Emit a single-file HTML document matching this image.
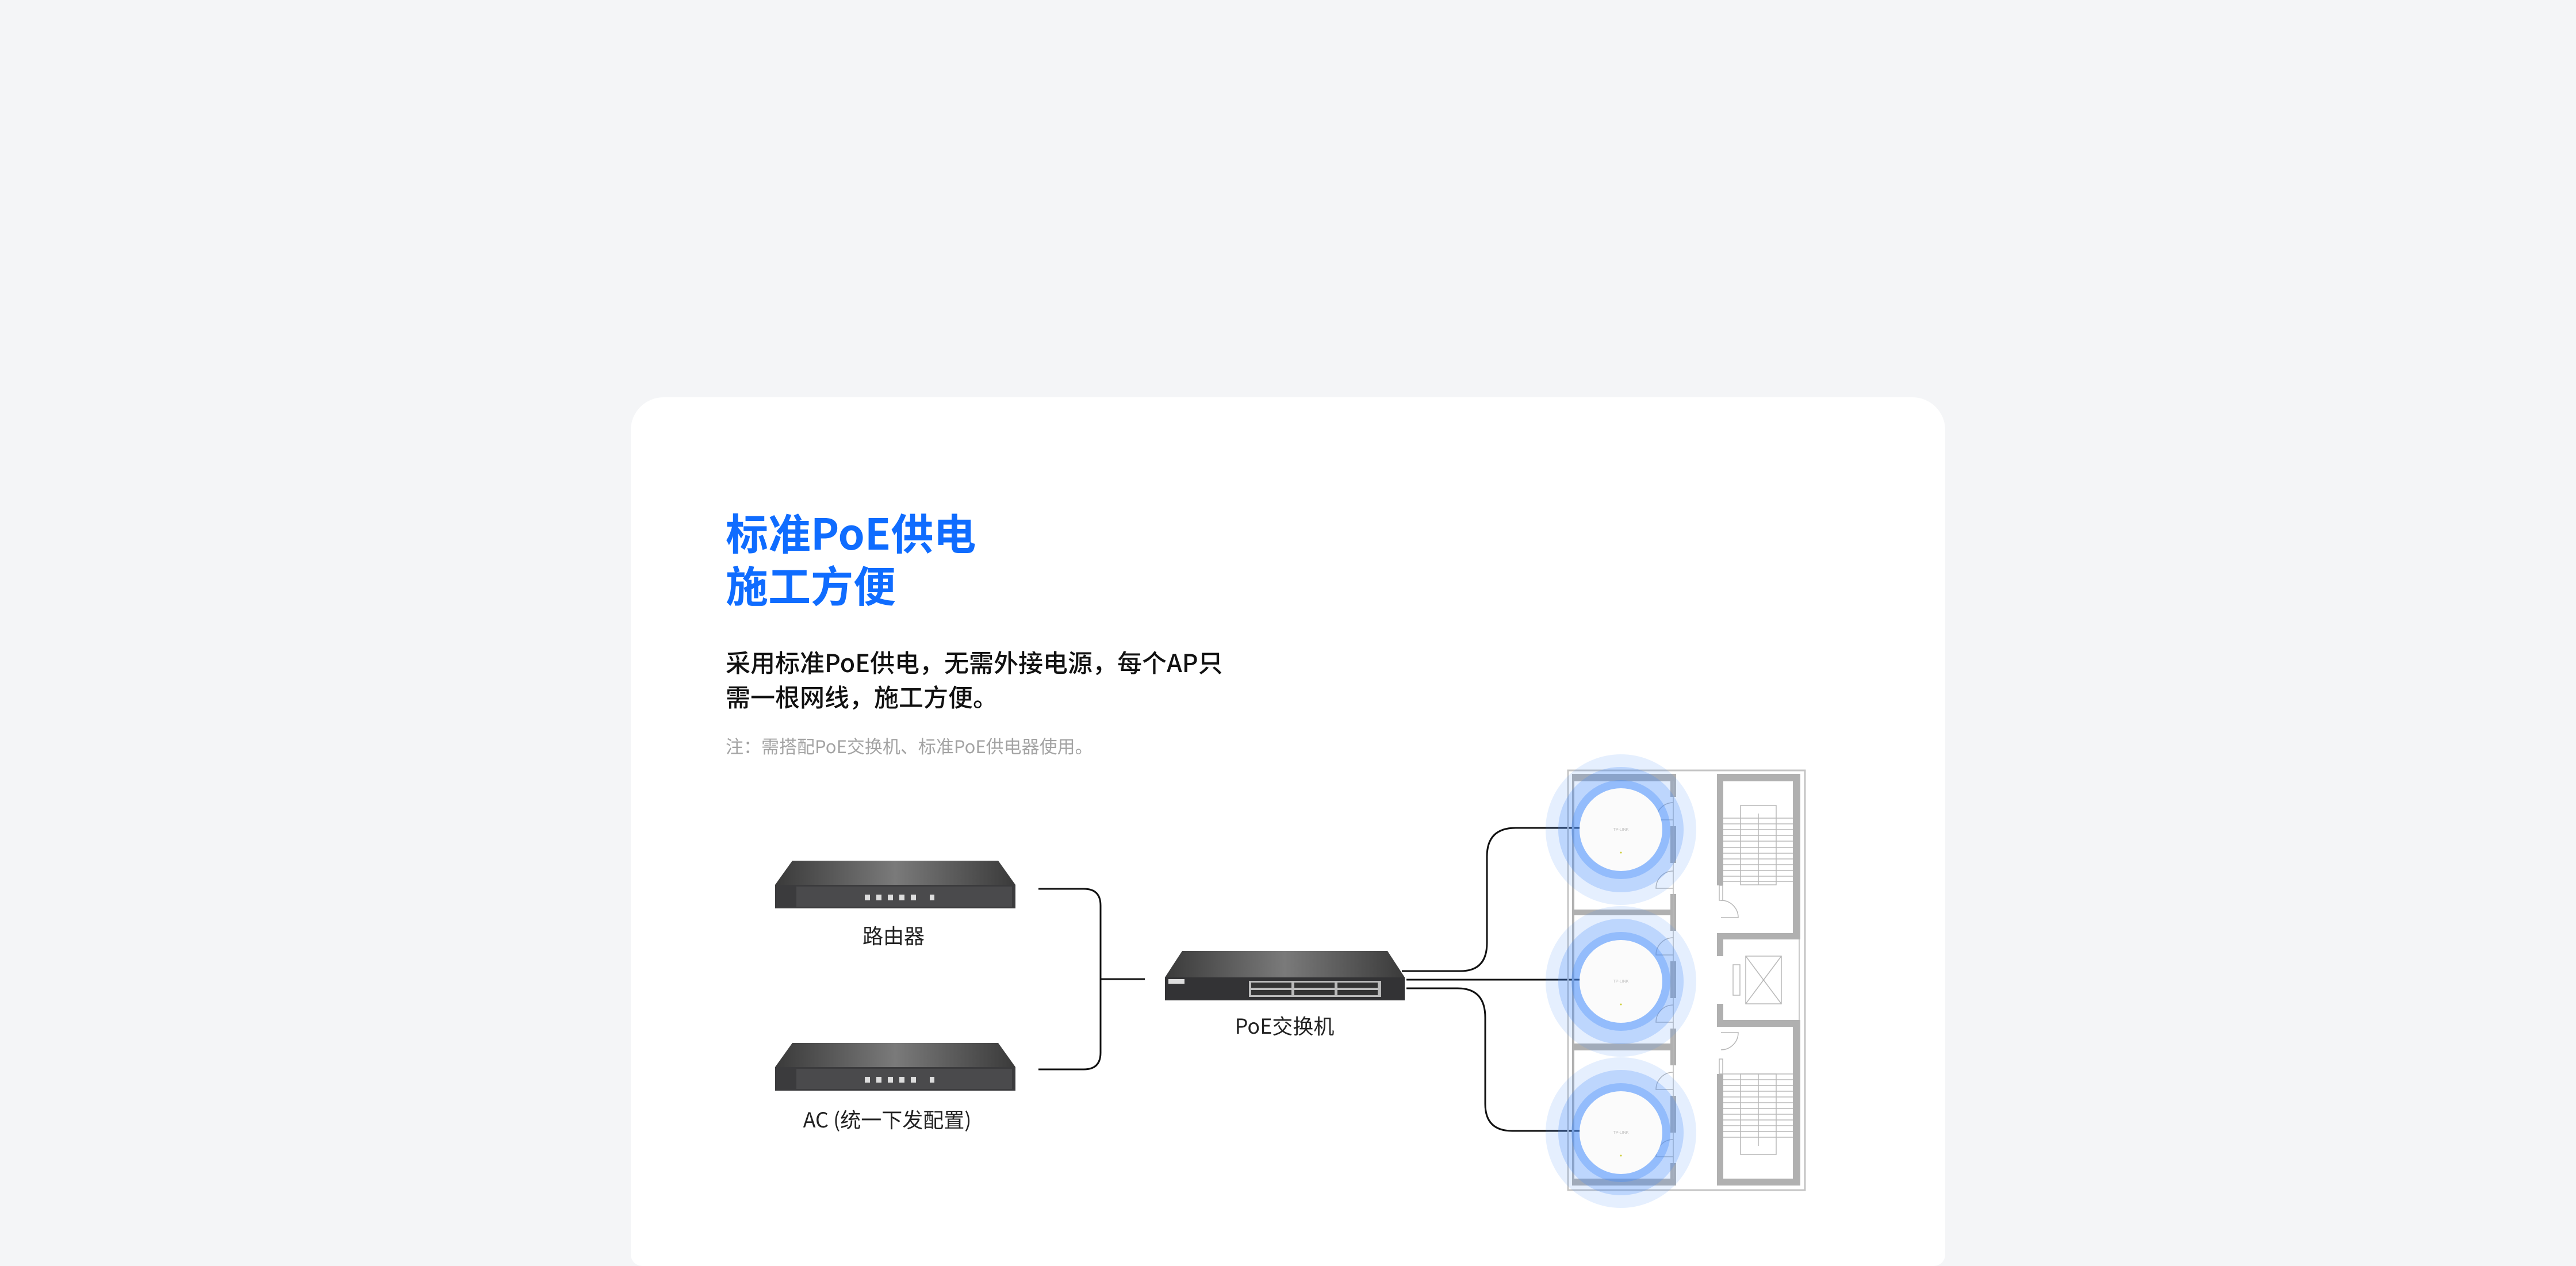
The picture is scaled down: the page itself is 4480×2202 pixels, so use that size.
<!DOCTYPE html>
<html><head><meta charset="utf-8"><style>
html,body{margin:0;padding:0;width:4480px;height:2202px;background:#f4f5f7;overflow:hidden}
#wrap{position:absolute;left:0;top:0;width:4480px;height:2202px;overflow:hidden}
.card{position:absolute;left:1097px;top:691px;width:2286px;height:1511px;background:#fff;border-radius:57px 57px 20px 20px}
.t{position:absolute;font-family:"Noto Sans CJK SC","Liberation Sans",sans-serif;white-space:nowrap}
.title{left:1262px;color:#0f6cff;font-weight:700;font-size:74px;line-height:92px}
.body{left:1262px;color:#111;font-weight:500;font-size:43px;line-height:60px}
.note{left:1262px;color:#a3a3a3;font-size:31px;line-height:40px}
.lbl{color:#222;font-size:36px;line-height:44px;transform:translateX(-50%)}
svg{position:absolute;left:0;top:0}
</style></head><body><div id="wrap">
<div class="card"></div>
<div class="t title" style="top:879px">标准PoE供电</div>
<div class="t title" style="top:970px">施工方便</div>
<div class="t body" style="top:1121px">采用标准PoE供电，无需外接电源，每个AP只</div>
<div class="t body" style="top:1181px">需一根网线，施工方便。</div>
<div class="t note" style="top:1277px">注：需搭配PoE交换机、标准PoE供电器使用。</div>
<div class="t lbl" style="left:1554px;top:1604px">路由器</div>
<div class="t lbl" style="left:1543px;top:1924px">AC (统一下发配置)</div>
<div class="t lbl" style="left:2234px;top:1761px">PoE交换机</div>
<svg width="4480" height="2202" viewBox="0 0 4480 2202">
<defs>
<linearGradient id="top" x1="0" y1="0" x2="1" y2="0">
<stop offset="0" stop-color="#3a3a3a"/><stop offset="0.5" stop-color="#7a7a7a"/><stop offset="1" stop-color="#3a3a3a"/></linearGradient>
</defs>
<g fill="none" stroke="#111" stroke-width="3">
<path d="M1806 1546 H1885 Q1914 1546 1914 1575 V1831 Q1914 1860 1885 1860 H1806"/>
<path d="M1914 1703 H1991"/>
<path d="M2438 1689 H2540 Q2586 1689 2586 1640 V1490 Q2586 1440 2636 1440 H2750"/>
<path d="M2446 1704 H2750"/>
<path d="M2446 1719 H2535 Q2583 1719 2583 1770 V1920 Q2583 1967 2630 1967 H2750"/>
</g>
<g>
<polygon points="1378,1497 1736,1497 1766,1539 1348,1539" fill="url(#top)"/>
<rect x="1348" y="1539" width="418" height="41" fill="#3b3b3d"/>
<rect x="1385" y="1542" width="375" height="35" fill="#4a4a4c"/>
<g fill="#ddd"><rect x="1504" y="1556" width="9" height="10"/><rect x="1524" y="1556" width="9" height="10"/><rect x="1544" y="1556" width="9" height="10"/><rect x="1564" y="1556" width="9" height="10"/><rect x="1584" y="1556" width="9" height="10"/><rect x="1617" y="1556" width="8" height="10"/></g>
</g>
<g>
<polygon points="1378,1814 1736,1814 1766,1856 1348,1856" fill="url(#top)"/>
<rect x="1348" y="1856" width="418" height="41" fill="#3b3b3d"/>
<rect x="1385" y="1859" width="375" height="35" fill="#4a4a4c"/>
<g fill="#ddd"><rect x="1504" y="1873" width="9" height="10"/><rect x="1524" y="1873" width="9" height="10"/><rect x="1544" y="1873" width="9" height="10"/><rect x="1564" y="1873" width="9" height="10"/><rect x="1584" y="1873" width="9" height="10"/><rect x="1617" y="1873" width="8" height="10"/></g>
</g>
<g>
<polygon points="2056,1654 2413,1654 2443,1700 2026,1700" fill="url(#top)"/>
<rect x="2026" y="1700" width="417" height="40" fill="#333335"/>
<rect x="2172" y="1706" width="230" height="28" fill="#bbb"/>
<g fill="#333"><rect x="2176" y="1709" width="70" height="9"/><rect x="2251" y="1709" width="70" height="9"/><rect x="2326" y="1709" width="70" height="9"/><rect x="2176" y="1722" width="70" height="9"/><rect x="2251" y="1722" width="70" height="9"/><rect x="2326" y="1722" width="70" height="9"/></g>
<rect x="2032" y="1703" width="28" height="8" fill="#ddd"/>
</g>
<g>
<rect x="2727" y="1340" width="412" height="730" fill="none" stroke="#c4c4c4" stroke-width="3"/>
<g fill="#b0b0b0">
<rect x="2734" y="1346" width="181" height="13"/>
<rect x="2734" y="2050" width="181" height="12"/>
<rect x="2734" y="1346" width="4" height="716"/>
<rect x="2734" y="1582" width="181" height="10"/>
<rect x="2734" y="1815" width="181" height="12"/>
<rect x="2905" y="1346" width="10" height="40"/>
<rect x="2905" y="1437" width="10" height="64"/>
<rect x="2905" y="1555" width="10" height="64"/>
<rect x="2905" y="1672" width="10" height="64"/>
<rect x="2905" y="1789" width="10" height="64"/>
<rect x="2905" y="1906" width="10" height="64"/>
<rect x="2905" y="2023" width="10" height="39"/>
<rect x="2986" y="1346" width="145" height="13"/>
<rect x="2986" y="2050" width="145" height="12"/>
<rect x="2986" y="1346" width="11" height="194"/>
<rect x="2986" y="1623" width="11" height="40"/>
<rect x="2986" y="1746" width="11" height="40"/>
<rect x="2986" y="1868" width="11" height="194"/>
<rect x="3118" y="1346" width="13" height="288"/>
<rect x="3118" y="1774" width="13" height="288"/>
<rect x="2986" y="1623" width="145" height="11"/>
<rect x="2986" y="1774" width="145" height="12"/>
</g>
<g fill="none" stroke="#b8b8b8" stroke-width="1.5">
<line x1="2910" y1="1359" x2="2910" y2="2050"/>
<line x1="3129" y1="1634" x2="3129" y2="1774"/>
<rect x="3027" y="1401" width="62" height="138"/>
<rect x="3027" y="1868" width="62" height="140"/>
<line x1="3058" y1="1415" x2="3058" y2="1539"/>
<line x1="3058" y1="1868" x2="3058" y2="1993"/>
<path d="M2997 1423H3118M2997 1433H3118M2997 1443H3118M2997 1453H3118M2997 1463H3118M2997 1474H3118M2997 1484H3118M2997 1494H3118M2997 1504H3118M2997 1514H3118M2997 1524H3118M2997 1533H3118"/>
<path d="M2997 1868H3118M2997 1878H3118M2997 1888H3118M2997 1898H3118M2997 1908H3118M2997 1918H3118M2997 1928H3118M2997 1938H3118M2997 1948H3118M2997 1958H3118M2997 1968H3118M2997 1978H3118"/>
<rect x="3036" y="1663" width="62" height="83"/>
<line x1="3036" y1="1663" x2="3098" y2="1746"/><line x1="3098" y1="1663" x2="3036" y2="1746"/>
<rect x="3014" y="1678" width="12" height="53"/>
<rect x="2990" y="1540" width="6" height="26"/>
<rect x="2990" y="1842" width="6" height="26"/>
<path d="M2910 1396 A30 30 0 0 0 2880 1426 H2910"/>
<path d="M2910 1515 A30 30 0 0 0 2880 1545 H2910"/>
<path d="M2910 1631 A30 30 0 0 0 2880 1661 H2910"/>
<path d="M2910 1748 A30 30 0 0 0 2880 1778 H2910"/>
<path d="M2910 1865 A30 30 0 0 0 2880 1895 H2910"/>
<path d="M2910 1982 A30 30 0 0 0 2880 2012 H2910"/>
<path d="M2993 1566 A30 30 0 0 1 3023 1596 H2993"/>
<path d="M2993 1826 A30 30 0 0 0 3023 1796 H2993"/>
</g>
</g>
<g>
<g transform="translate(2819,1443)">
<circle r="131" fill="rgba(70,140,250,0.14)"/><circle r="109" fill="rgba(70,140,250,0.25)"/><circle r="86" fill="rgba(70,140,250,0.35)"/><circle r="72" fill="#fbfbfb"/>
<text y="2" text-anchor="middle" font-family="Liberation Sans" font-size="7" fill="#bbb">TP-LINK</text><circle cy="40" r="1.5" fill="#cc3"/></g>
<g transform="translate(2819,1707)">
<circle r="131" fill="rgba(70,140,250,0.14)"/><circle r="109" fill="rgba(70,140,250,0.25)"/><circle r="86" fill="rgba(70,140,250,0.35)"/><circle r="72" fill="#fbfbfb"/>
<text y="2" text-anchor="middle" font-family="Liberation Sans" font-size="7" fill="#bbb">TP-LINK</text><circle cy="40" r="1.5" fill="#cc3"/></g>
<g transform="translate(2819,1970)">
<circle r="131" fill="rgba(70,140,250,0.14)"/><circle r="109" fill="rgba(70,140,250,0.25)"/><circle r="86" fill="rgba(70,140,250,0.35)"/><circle r="72" fill="#fbfbfb"/>
<text y="2" text-anchor="middle" font-family="Liberation Sans" font-size="7" fill="#bbb">TP-LINK</text><circle cy="40" r="1.5" fill="#cc3"/></g>
</g>
</svg>
</div></body></html>
